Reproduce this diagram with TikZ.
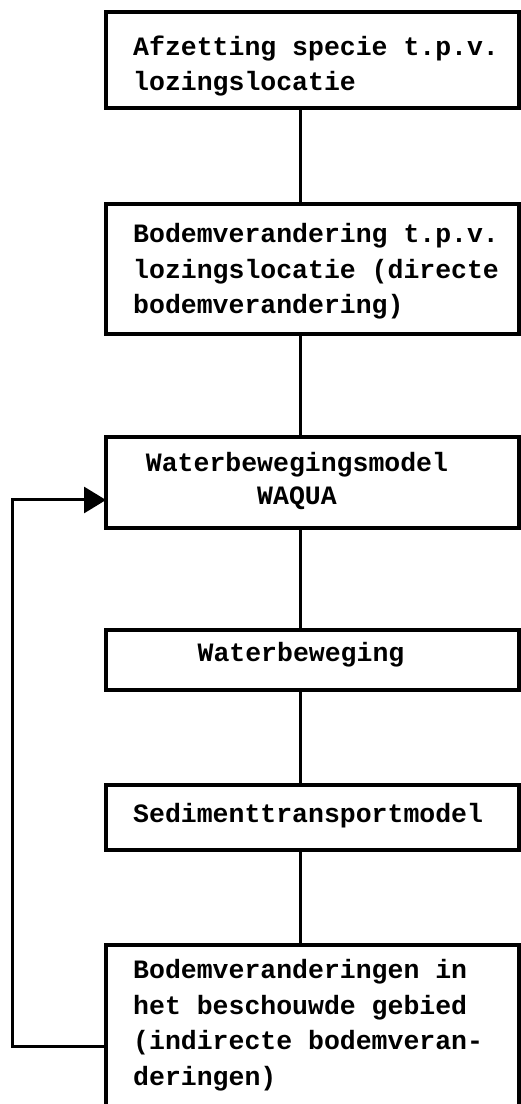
\documentclass[tikz,border=0pt]{standalone}
\usepackage{fontspec}
\usetikzlibrary{arrows.meta,positioning}
\newfontfamily\typefont{Liberation Mono}
\newcommand{\boxfont}{\typefont\bfseries\fontsize{26.5}{35.5}\selectfont}

\begin{document}
\begin{tikzpicture}[x=1pt, y=1pt,
    box/.style={draw, line width=3.2pt, minimum width=413pt, inner sep=0pt, outer sep=0pt},
    lbl/.style={font=\boxfont, align=left, inner sep=0pt},
    lblc/.style={font=\boxfont, align=center, inner sep=0pt},
    conn/.style={line width=3pt},
    loopback/.style={line width=3pt, -{Triangle[length=22pt, width=26pt]}}
  ]
  \useasboundingbox (0,0) rectangle (520,1104);

  \node[box, minimum height=96pt] (b1) at (312.5,1044) {};
  \node[box, minimum height=130pt, below=96pt of b1] (b2) {};
  \node[box, minimum height=91pt, below=103pt of b2] (b3) {};
  \node[box, minimum height=60pt, below=102pt of b3] (b4) {};
  \node[box, minimum height=65pt, below=95pt of b4] (b5) {};
  \node[box, minimum height=175pt, below=95pt of b5] (b6) {};

  \node[lbl, below right=23.5pt and 27pt of b1.north west] (t1) {Afzetting specie t.p.v.\\lozingslocatie};
  \node[lbl, below right=19.5pt and 27pt of b2.north west] (t2) {Bodemverandering t.p.v.\\lozingslocatie (directe\\bodemverandering)};
  \node[lblc, below=15.5pt of b3.north, xshift=-15.5pt] (t3) {Waterbewegingsmodel\\[-3pt]WAQUA};
  \node[lblc, below=12.5pt of b4.north, xshift=-11.5pt] (t4) {Waterbeweging};
  \node[lbl, below right=18.5pt and 27pt of b5.north west] (t5) {Sedimenttransportmodel};
  \node[lbl, below right=14.5pt and 27pt of b6.north west] (t6) {Bodemveranderingen in\\het beschouwde gebied\\(indirecte bodemveran-\\deringen)};

  \foreach \a/\b in {b1/b2, b2/b3, b3/b4, b4/b5, b5/b6}
    \draw[conn] ([xshift=-12.5pt]\a.south) -- ([xshift=-12.5pt]\b.north);

  % terugkoppeling naar het waterbewegingsmodel
  \draw[loopback] ([yshift=-14.5pt]b6.west) -- ++(-94,0) |- ([yshift=-17.5pt]b3.west);
\end{tikzpicture}
\end{document}
